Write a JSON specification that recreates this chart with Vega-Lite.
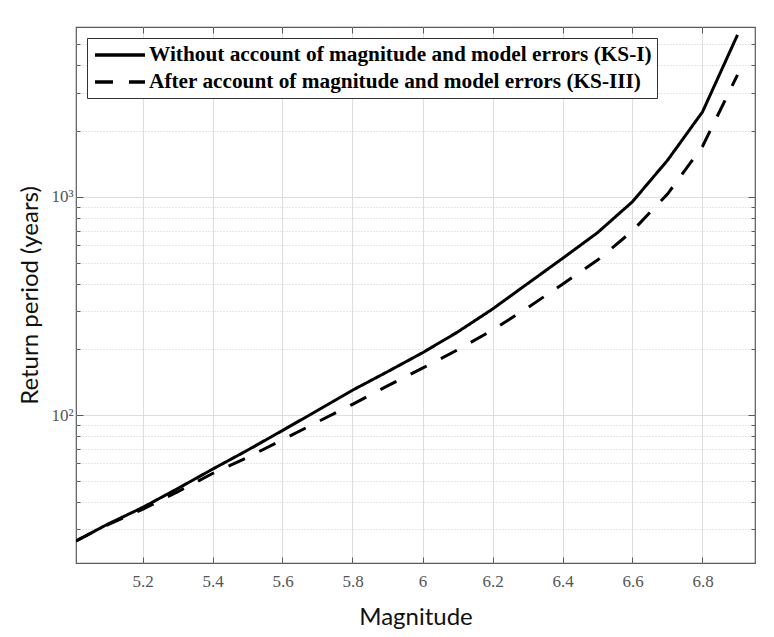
{
  "$schema": "https://vega.github.io/schema/vega-lite/v6.json",
  "width": 679,
  "height": 536,
  "autosize": {"type": "none"},
  "padding": {"left": 76, "top": 27, "right": 19, "bottom": 74},
  "background": "white",
  "config": {
    "view": {"stroke": "#5a5a5a", "strokeWidth": 1.2},
    "axis": {
      "labelFont": "Liberation Serif",
      "labelFontSize": 17,
      "labelColor": "#555555",
      "titleFont": "Lato",
      "titleFontSize": 24,
      "titleFontWeight": "normal",
      "titleColor": "#111111",
      "domain": false,
      "tickColor": "#5a5a5a",
      "tickWidth": 1,
      "gridColor": "#dedede",
      "gridWidth": 1
    }
  },
  "datasets": {
    "curves": [
      {"M": 5.01, "T": 26.5, "series": "Without account of magnitude and model errors (KS-I)"},
      {"M": 5.1, "T": 31.6, "series": "Without account of magnitude and model errors (KS-I)"},
      {"M": 5.2, "T": 37.7, "series": "Without account of magnitude and model errors (KS-I)"},
      {"M": 5.3, "T": 46, "series": "Without account of magnitude and model errors (KS-I)"},
      {"M": 5.4, "T": 56.5, "series": "Without account of magnitude and model errors (KS-I)"},
      {"M": 5.5, "T": 69, "series": "Without account of magnitude and model errors (KS-I)"},
      {"M": 5.6, "T": 85, "series": "Without account of magnitude and model errors (KS-I)"},
      {"M": 5.7, "T": 105, "series": "Without account of magnitude and model errors (KS-I)"},
      {"M": 5.8, "T": 130, "series": "Without account of magnitude and model errors (KS-I)"},
      {"M": 5.9, "T": 158, "series": "Without account of magnitude and model errors (KS-I)"},
      {"M": 6.0, "T": 193, "series": "Without account of magnitude and model errors (KS-I)"},
      {"M": 6.1, "T": 240, "series": "Without account of magnitude and model errors (KS-I)"},
      {"M": 6.2, "T": 306, "series": "Without account of magnitude and model errors (KS-I)"},
      {"M": 6.3, "T": 400, "series": "Without account of magnitude and model errors (KS-I)"},
      {"M": 6.4, "T": 522, "series": "Without account of magnitude and model errors (KS-I)"},
      {"M": 6.5, "T": 685, "series": "Without account of magnitude and model errors (KS-I)"},
      {"M": 6.6, "T": 950, "series": "Without account of magnitude and model errors (KS-I)"},
      {"M": 6.7, "T": 1470, "series": "Without account of magnitude and model errors (KS-I)"},
      {"M": 6.8, "T": 2450, "series": "Without account of magnitude and model errors (KS-I)"},
      {"M": 6.9, "T": 5520, "series": "Without account of magnitude and model errors (KS-I)"},
      {"M": 5.01, "T": 26.5, "series": "After account of magnitude and model errors (KS-III)"},
      {"M": 5.1, "T": 31.4, "series": "After account of magnitude and model errors (KS-III)"},
      {"M": 5.2, "T": 37, "series": "After account of magnitude and model errors (KS-III)"},
      {"M": 5.3, "T": 44.5, "series": "After account of magnitude and model errors (KS-III)"},
      {"M": 5.4, "T": 54, "series": "After account of magnitude and model errors (KS-III)"},
      {"M": 5.5, "T": 64, "series": "After account of magnitude and model errors (KS-III)"},
      {"M": 5.6, "T": 77, "series": "After account of magnitude and model errors (KS-III)"},
      {"M": 5.7, "T": 93, "series": "After account of magnitude and model errors (KS-III)"},
      {"M": 5.8, "T": 112, "series": "After account of magnitude and model errors (KS-III)"},
      {"M": 5.9, "T": 136, "series": "After account of magnitude and model errors (KS-III)"},
      {"M": 6.0, "T": 164, "series": "After account of magnitude and model errors (KS-III)"},
      {"M": 6.1, "T": 199, "series": "After account of magnitude and model errors (KS-III)"},
      {"M": 6.2, "T": 245, "series": "After account of magnitude and model errors (KS-III)"},
      {"M": 6.3, "T": 310, "series": "After account of magnitude and model errors (KS-III)"},
      {"M": 6.4, "T": 398, "series": "After account of magnitude and model errors (KS-III)"},
      {"M": 6.5, "T": 513, "series": "After account of magnitude and model errors (KS-III)"},
      {"M": 6.6, "T": 698, "series": "After account of magnitude and model errors (KS-III)"},
      {"M": 6.7, "T": 1030, "series": "After account of magnitude and model errors (KS-III)"},
      {"M": 6.8, "T": 1703, "series": "After account of magnitude and model errors (KS-III)"},
      {"M": 6.9, "T": 3620, "series": "After account of magnitude and model errors (KS-III)"}
    ]
  },
  "data": {"name": "curves"},
  "layer": [
    {
      "mark": {"type": "line", "color": "black", "strokeWidth": 3, "clip": true},
      "encoding": {
        "x": {
          "field": "M", "type": "quantitative",
          "scale": {"domain": [5.01, 6.95], "nice": false, "zero": false},
          "axis": {
            "orient": "bottom",
            "title": "Magnitude",
            "values": [5.2, 5.4, 5.6, 5.8, 6.0, 6.2, 6.4, 6.6, 6.8],
            "format": "~g",
            "tickSize": -6,
            "labelPadding": 16,
            "titlePadding": 16,
            "grid": true
          }
        },
        "y": {
          "field": "T", "type": "quantitative",
          "scale": {"type": "log", "domain": [21, 6000], "nice": false},
          "axis": {
            "orient": "left",
            "title": "Return period (years)",
            "values": [30, 40, 50, 60, 70, 80, 90, 100, 200, 300, 400, 500, 600, 700, 800, 900, 1000, 2000, 3000, 4000, 5000],
            "labelExpr": "datum.value == 100 ? '10²' : (datum.value == 1000 ? '10³' : '')",
            "tickSize": {"condition": {"test": "datum.value == 100 || datum.value == 1000", "value": -7}, "value": -4},
            "labelPadding": 10,
            "titlePadding": 8,
            "grid": true,
            "gridDash": {"condition": {"test": "datum.value == 100 || datum.value == 1000", "value": []}, "value": [1, 2]},
            "gridColor": {"condition": {"test": "datum.value == 100 || datum.value == 1000", "value": "#dedede"}, "value": "#cfcfcf"}
          }
        },
        "strokeDash": {
          "field": "series", "type": "nominal",
          "scale": {
            "domain": ["Without account of magnitude and model errors (KS-I)", "After account of magnitude and model errors (KS-III)"],
            "range": [[1, 0], [18, 16]]
          },
          "legend": {
            "title": null,
            "orient": "none",
            "legendX": 11,
            "legendY": 11,
            "symbolType": "M-2.5,0H2.5",
            "symbolSize": 400,
            "symbolOffset": 16,
            "symbolStrokeWidth": 3.5,
            "symbolStrokeColor": "black",
            "symbolFillColor": "transparent",
            "labelFont": "Liberation Serif",
            "labelFontWeight": "bold",
            "labelFontSize": 21.3,
            "labelColor": "black",
            "labelLimit": 700,
            "labelOffset": 17,
            "labelExpr": "datum.label + '\u00a0\u00a0\u00a0\u00a0'",
            "strokeColor": "#333333",
            "fillColor": "white",
            "padding": 5,
            "rowPadding": 4
          }
        }
      }
    },
    {
      "mark": {"type": "line", "strokeOpacity": 0},
      "encoding": {
        "x": {
          "field": "M", "type": "quantitative",
          "axis": {
            "orient": "top", "title": null, "labels": false, "grid": false,
            "values": [5.2, 5.4, 5.6, 5.8, 6.0, 6.2, 6.4, 6.6, 6.8],
            "tickSize": -6
          }
        },
        "y": {
          "field": "T", "type": "quantitative",
          "axis": {
            "orient": "right", "title": null, "labels": false, "grid": false,
            "values": [30, 40, 50, 60, 70, 80, 90, 100, 200, 300, 400, 500, 600, 700, 800, 900, 1000, 2000, 3000, 4000, 5000],
            "tickSize": {"condition": {"test": "datum.value == 100 || datum.value == 1000", "value": -7}, "value": -4}
          }
        }
      }
    }
  ],
  "resolve": {"axis": {"x": "independent", "y": "independent"}}
}
